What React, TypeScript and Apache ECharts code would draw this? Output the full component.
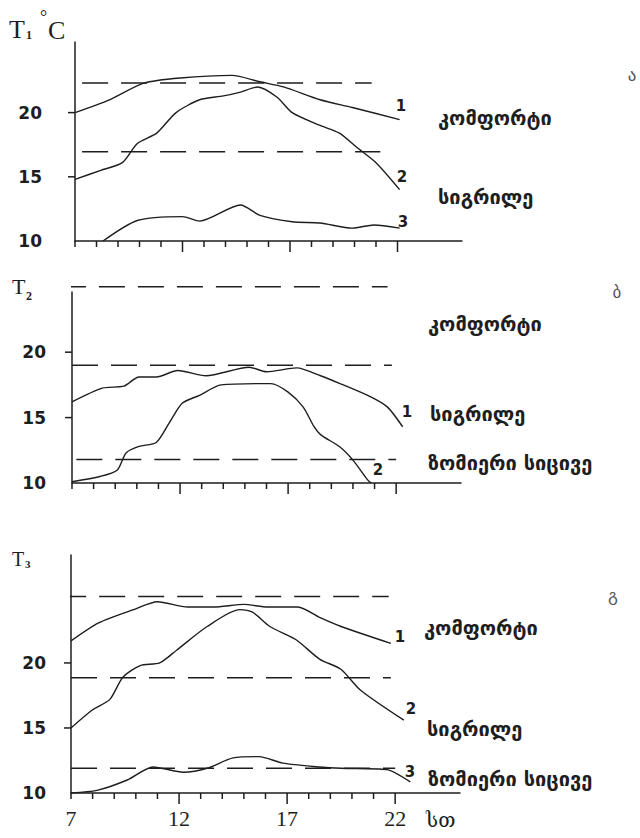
import React, { useEffect, useRef } from 'react';
import * as echarts from 'echarts';

// ---- axes ----
const hourMin = 7;
const hourAxisEnd = 25;
const hourTicks = [7, 8, 9, 10, 11, 12, 13, 14, 15, 16, 17, 18, 19, 20, 21, 22];
const majorHours = [12, 17, 22];
const xLabelHours = [7, 12, 17, 22];
const tempMin = 10;
const yTickTemps = [15, 20];
const yLabelTemps = [10, 15, 20];

// ---- panel ა ----
const a1Hours = [7, 8.6, 10.2, 11.9, 14.3, 15.6, 16.7, 18.4, 19.9, 22.1];
const a1Temps = [20.0, 21.0, 22.3, 22.7, 22.9, 22.4, 22.0, 21.0, 20.4, 19.45];
const a2Hours = [7, 8.2, 9.2, 9.9, 10.8, 11.7, 12.8, 13.9, 14.7, 15.5, 16.4, 17.1, 18.4, 19.3, 20.1, 21.0, 22.1];
const a2Temps = [14.8, 15.5, 16.1, 17.6, 18.4, 20.0, 21.0, 21.3, 21.6, 22.0, 21.2, 20.0, 19.0, 18.4, 17.3, 16.1, 14.0];
const a3Hours = [8.3, 9.9, 12.0, 12.8, 14.7, 15.6, 17.1, 18.4, 19.9, 20.9, 22.1];
const a3Temps = [10.0, 11.6, 11.9, 11.55, 12.8, 12.0, 11.5, 11.4, 11.0, 11.25, 11.0];
const aDashTemps = [22.3, 16.95];
const aDashFrom = [7.33, 7.33];
const aDashTo = [20.8, 21.2];

// ---- panel ბ ----
const b1Hours = [7, 8.4, 9.4, 10.1, 10.9, 11.9, 13.2, 15.2, 16.0, 17.4, 18.5, 19.4, 20.8, 21.6, 22.3];
const b1Temps = [16.2, 17.25, 17.4, 18.1, 18.1, 18.6, 18.2, 18.85, 18.5, 18.8, 18.2, 17.6, 16.6, 15.8, 14.3];
const b2Hours = [7, 8.3, 9.1, 9.5, 10.1, 10.9, 11.5, 12.1, 12.9, 13.9, 16.2, 17.0, 17.7, 18.2, 18.5, 19.4, 20.0, 20.7, 20.85];
const b2Temps = [10.1, 10.5, 11.0, 12.3, 12.8, 13.1, 14.6, 16.1, 16.7, 17.5, 17.6, 16.95, 15.8, 14.3, 13.7, 12.75, 11.75, 10.2, 10.0];
const bDashTemps = [25.0, 19.0, 11.8];
const bDashFrom = [6.44, 7.0, 7.2];
const bDashTo = [21.6, 21.8, 22.0];

// ---- panel გ ----
const c1Hours = [7.0, 8.3, 9.9, 11.0, 12.4, 13.6, 15.0, 16.1, 17.5, 18.5, 19.5, 21.8];
const c1Temps = [21.7, 23.1, 24.1, 24.7, 24.3, 24.3, 24.5, 24.3, 24.3, 23.5, 22.8, 21.5];
const c2Hours = [7.0, 8.0, 8.8, 9.4, 10.2, 11.1, 11.9, 13.3, 14.8, 15.4, 16.2, 17.4, 18.5, 19.5, 20.4, 22.4];
const c2Temps = [15.0, 16.4, 17.2, 18.9, 19.8, 20.0, 21.0, 22.8, 24.1, 23.9, 22.8, 21.8, 20.3, 19.5, 17.9, 15.6];
const c3Hours = [7.0, 8.2, 9.6, 10.8, 12.2, 13.3, 14.5, 15.7, 16.8, 18.5, 19.5, 21.6, 22.7];
const c3Temps = [10.0, 10.2, 11.0, 12.0, 11.6, 11.9, 12.7, 12.8, 12.3, 12.0, 11.9, 11.8, 10.85];
const cDashTemps = [25.1, 18.87, 11.9];
const cDashFrom = [6.5, 7.0, 7.0];
const cDashTo = [21.7, 21.8, 22.0];

const INK = '#1e1e1e';
const SERIF = '"Liberation Serif", "DejaVu Serif", serif';
const SANS = '"DejaVu Sans", "Noto Sans", sans-serif';

const pair = (hs: number[], ts: number[]) => hs.map((h, i) => [h, ts[i]]);

function curve(p: number, hs: number[], ts: number[]) {
  return {
    type: 'line', xAxisIndex: p, yAxisIndex: p, data: pair(hs, ts),
    symbol: 'none', smooth: 0.25, lineStyle: { color: INK, width: 1.4 },
  };
}

function dashes(p: number, temps: number[], from: number[], to: number[]) {
  return temps.map((t, i) => ({
    type: 'line', xAxisIndex: p, yAxisIndex: p, data: [[from[i], t], [to[i], t]],
    symbol: 'none', clip: false, lineStyle: { color: INK, width: 1.5, type: [26, 13] },
  }));
}

const grids = [
  { left: 75, top: 42, width: 387, height: 199 },
  { left: 72, top: 292, width: 389, height: 191 },
  { left: 71, top: 555, width: 389, height: 238 },
];
const yMax = [25.5, 24.6, 28.3];
const yLabelMargin = [33, 26, 25];

function txt(x: number, y: number, text: string, size: number, family: string, weight = 'normal', align = 'left', fill = INK) {
  return {
    type: 'text', x, y, silent: true,
    style: { text, fontSize: size, fontFamily: family, fontWeight: weight, fill, textAlign: align, textVerticalAlign: 'middle' },
  };
}

export default function App() {
  const ref = useRef<HTMLDivElement>(null);
  useEffect(() => {
    if (!ref.current) return;
    const chart = echarts.init(ref.current, undefined, { renderer: 'svg' });

    const xAxis = grids.map((_g, p) => ({
      type: 'value', gridIndex: p, min: hourMin, max: hourAxisEnd,
      splitLine: { show: false },
      axisLine: { show: true, onZero: false, lineStyle: { color: INK, width: 1.5 } },
      axisTick: { show: false },
      axisLabel: {
        show: p === 2, customValues: xLabelHours, margin: 14,
        fontSize: 22, fontFamily: SERIF, color: INK,
      },
    }));
    const yAxis = grids.map((_g, p) => ({
      type: 'value', gridIndex: p, min: tempMin, max: yMax[p],
      splitLine: { show: false },
      axisLine: { show: true, onZero: false, lineStyle: { color: INK, width: 1.5 } },
      axisTick: { show: false },
      axisLabel: {
        show: true, customValues: yLabelTemps, margin: yLabelMargin[p],
        fontSize: 17, fontWeight: 'bold', fontFamily: SANS, color: INK,
      },
    }));

    const series: any[] = [
      curve(0, a1Hours, a1Temps),
      curve(0, a2Hours, a2Temps),
      curve(0, a3Hours, a3Temps),
      ...dashes(0, aDashTemps, aDashFrom, aDashTo),
      curve(1, b1Hours, b1Temps),
      curve(1, b2Hours, b2Temps),
      ...dashes(1, bDashTemps, bDashFrom, bDashTo),
      curve(2, c1Hours, c1Temps),
      curve(2, c2Hours, c2Temps),
      curve(2, c3Hours, c3Temps),
      ...dashes(2, cDashTemps, cDashFrom, cDashTo),
    ];

    const G = 20;
    const texts: any[] = [
      txt(9, 29, 'T', 26, SERIF),
      txt(26, 35, '1', 12, SERIF, 'bold'),
      txt(40, 17, '°', 18, SERIF),
      txt(48, 30, 'C', 26, SERIF),
      txt(12, 286, 'T', 22, SERIF),
      txt(26, 296, '2', 12, SERIF, 'bold'),
      txt(12, 559, 'T', 20, SERIF),
      txt(25, 564, '3', 11, SERIF, 'bold'),
      txt(632, 75, 'ა', 17, SANS, 'normal', 'center', '#555'),
      txt(401, 106, '1', 15, SANS, 'bold', 'center'),
      txt(402, 177, '2', 15, SANS, 'bold', 'center'),
      txt(403, 222, '3', 15, SANS, 'bold', 'center'),
      txt(438, 118, 'კომფორტი', G, SANS, 'bold'),
      txt(438, 197, 'სიგრილე', G, SANS, 'bold'),
      txt(617, 292, 'ბ', 17, SANS, 'normal', 'center', '#555'),
      txt(428, 324, 'კომფორტი', G, SANS, 'bold'),
      txt(407, 412, '1', 15, SANS, 'bold', 'center'),
      txt(430, 414, 'სიგრილე', G, SANS, 'bold'),
      txt(378, 470, '2', 15, SANS, 'bold', 'center'),
      txt(428, 463, 'ზომიერი სიცივე', G, SANS, 'bold'),
      txt(613, 595, 'გ', 17, SANS, 'normal', 'center', '#555'),
      txt(400, 637, '1', 15, SANS, 'bold', 'center'),
      txt(424, 628, 'კომფორტი', G, SANS, 'bold'),
      txt(411, 709, '2', 15, SANS, 'bold', 'center'),
      txt(427, 729, 'სიგრილე', G, SANS, 'bold'),
      txt(410, 772, '3', 15, SANS, 'bold', 'center'),
      txt(428, 779, 'ზომიერი სიცივე', G, SANS, 'bold'),
      txt(426, 820, 'სთ', 20, SERIF),
    ];

    chart.setOption({
      animation: false,
      backgroundColor: '#ffffff',
      grid: grids.map((g) => ({ ...g })),
      xAxis,
      yAxis,
      series,
      graphic: texts,
    });

    // axis ticks, positioned through the chart's own axis scales
    const tickLines: any[] = [];
    grids.forEach((_g, p) => {
      hourTicks.forEach((h) => {
        const pt = chart.convertToPixel({ gridIndex: p }, [h, tempMin]) as number[];
        if (!pt) return;
        const len = majorHours.indexOf(h) >= 0 ? 11 : 6;
        tickLines.push({
          type: 'line', silent: true, z: 50,
          shape: { x1: pt[0], y1: pt[1], x2: pt[0], y2: pt[1] + len },
          style: { stroke: INK, lineWidth: 1.5 },
        });
      });
      yTickTemps.forEach((t) => {
        const pt = chart.convertToPixel({ gridIndex: p }, [hourMin, t]) as number[];
        if (!pt) return;
        tickLines.push({
          type: 'line', silent: true, z: 50,
          shape: { x1: pt[0] - 7, y1: pt[1], x2: pt[0], y2: pt[1] },
          style: { stroke: INK, lineWidth: 1.5 },
        });
      });
    });
    chart.setOption({ graphic: [...texts, ...tickLines] });

    return () => chart.dispose();
  }, []);

  return (
    <div ref={ref} style={{ position: 'fixed', left: 0, top: 0, width: 640, height: 838, background: '#fff' }} />
  );
}
